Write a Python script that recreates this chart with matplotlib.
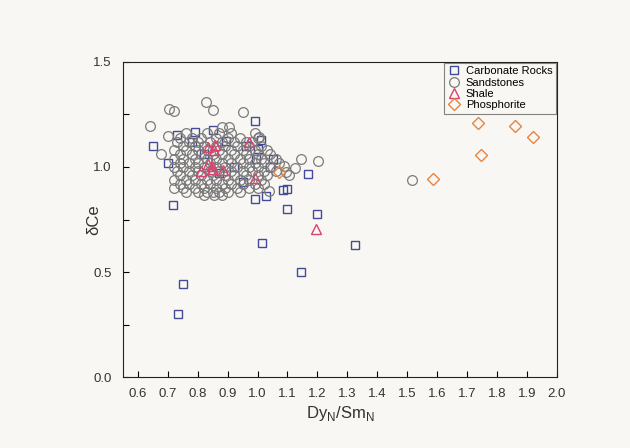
import numpy as np
import matplotlib.pyplot as plt
from matplotlib.ticker import MultipleLocator

plt.rcParams['font.family'] = ['Liberation Sans', 'DejaVu Sans']

# Carbonate Rocks
carb_x = [0.65, 0.70, 0.718, 0.99, 0.85, 0.79, 0.73, 1.01, 1.05, 1.17, 1.085, 1.10,
          0.992, 1.028, 1.097, 1.20, 0.75, 0.734, 1.015, 1.145, 1.327,
          0.896, 0.963, 1.0, 0.994, 0.82, 0.92, 0.87, 0.95, 0.78, 1.04]
carb_y = [1.10, 1.02, 0.817, 1.219, 1.175, 1.165, 1.152, 1.129, 1.04, 0.965, 0.889, 0.893,
          0.846, 0.863, 0.798, 0.775, 0.441, 0.30, 0.637, 0.50, 0.63,
          1.125, 1.10, 1.084, 1.038, 1.06, 1.00, 0.97, 0.93, 1.12, 1.00]

# Sandstones
sand_rows = {
    1.19: [0.88, 0.905],
    1.16: [0.76, 0.83, 0.87, 0.91, 0.99],
    1.14: [0.74, 0.78, 0.81, 0.86, 0.90, 0.94, 1.00],
    1.12: [0.73, 0.77, 0.80, 0.84, 0.88, 0.92, 0.96, 0.98],
    1.10: [0.75, 0.79, 0.82, 0.86, 0.89, 0.93, 0.97, 1.01],
    1.08: [0.72, 0.76, 0.80, 0.83, 0.87, 0.91, 0.95, 0.99, 1.03],
    1.06: [0.74, 0.78, 0.81, 0.85, 0.88, 0.92, 0.96, 1.00, 1.04],
    1.04: [0.72, 0.75, 0.79, 0.83, 0.86, 0.90, 0.94, 0.97, 1.01, 1.06],
    1.02: [0.74, 0.77, 0.80, 0.84, 0.88, 0.91, 0.95, 0.99, 1.02, 1.07],
    1.00: [0.72, 0.75, 0.79, 0.82, 0.86, 0.89, 0.93, 0.97, 1.00, 1.04],
    0.98: [0.73, 0.77, 0.80, 0.84, 0.87, 0.91, 0.95, 0.98, 1.02, 1.06],
    0.96: [0.74, 0.78, 0.81, 0.85, 0.89, 0.92, 0.96, 1.00, 1.03],
    0.94: [0.72, 0.76, 0.79, 0.83, 0.86, 0.90, 0.94, 0.97, 1.01],
    0.92: [0.74, 0.77, 0.81, 0.84, 0.88, 0.91, 0.95, 0.99, 1.02],
    0.90: [0.72, 0.75, 0.79, 0.82, 0.86, 0.89, 0.93, 0.97, 1.00],
    0.88: [0.76, 0.80, 0.83, 0.85, 0.87, 0.90, 0.94],
    0.865: [0.82, 0.855, 0.88],
}
sand_x = [x for yv, xs in sand_rows.items() for x in xs]
sand_y = [yv for yv, xs in sand_rows.items() for x in xs]
# outliers
sand_x += [0.64, 0.705, 0.72, 0.829, 0.851, 0.952, 0.679, 0.70, 1.005, 1.039,
           1.146, 1.202, 1.124, 1.089, 1.095, 1.105, 1.516]
sand_y += [1.197, 1.278, 1.268, 1.311, 1.271, 1.26, 1.06, 1.149, 1.141, 0.886,
           1.04, 1.027, 0.993, 1.005, 0.978, 0.96, 0.937]

# Shale
shale_x = [0.835, 0.857, 0.853, 0.972, 0.835, 0.848, 0.812, 0.848, 0.884, 0.992, 1.196]
shale_y = [1.097, 1.105, 1.081, 1.117, 1.014, 1.006, 0.981, 0.99, 0.986, 0.946, 0.703]

# Phosphorite
phos_x = [1.738, 1.861, 1.92, 1.746, 1.587, 1.07]
phos_y = [1.211, 1.195, 1.143, 1.057, 0.941, 0.974]

bg = '#f9f7f4'
fig = plt.figure(figsize=(6.3, 4.48), dpi=100, facecolor=bg)
ax = fig.add_axes([0.195, 0.158, 0.689, 0.704], facecolor=bg)

ax.plot(carb_x, carb_y, 's', ms=6, mfc='none', mec='#454a98', mew=1.0,
        label='Carbonate Rocks', zorder=3)
ax.plot(sand_x, sand_y, 'o', ms=7, mfc='none', mec='#7b7b7b', mew=0.9,
        label='Sandstones', zorder=4)
ax.plot(shale_x, shale_y, '^', ms=7.5, mfc='none', mec='#d9436f', mew=1.0,
        label='Shale', zorder=5)
ax.plot(phos_x, phos_y, 'D', ms=6.5, mfc='none', mec='#e58544', mew=1.0,
        label='Phosphorite', zorder=5)

ax.set_xlim(0.55, 2.0)
ax.set_ylim(0, 1.5)
ax.xaxis.set_major_locator(MultipleLocator(0.1))
ax.yaxis.set_major_locator(MultipleLocator(0.5))
ax.yaxis.set_minor_locator(MultipleLocator(0.25))
ax.tick_params(direction='in', length=4, width=0.8, labelsize=9.5,
               labelcolor='#333333', top=False, right=False)
ax.tick_params(axis='x', pad=8)
ax.tick_params(axis='y', pad=8)
ax.tick_params(which='minor', direction='in', length=4, width=0.8, right=False)
ax.xaxis.set_major_formatter(plt.FormatStrFormatter('%.1f'))
ax.yaxis.set_major_formatter(plt.FormatStrFormatter('%.1f'))
for s in ax.spines.values():
    s.set_linewidth(0.8)
    s.set_color('#222222')

ax.set_xlabel(r'Dy$_\mathregular{N}$/Sm$_\mathregular{N}$', fontsize=12, color='#333333', labelpad=3)
ax.set_ylabel('δCe', fontsize=12, color='#333333')
ax.yaxis.set_label_coords(-0.05, 0.5)

leg = ax.legend(loc='upper right', bbox_to_anchor=(1, 1), borderaxespad=0.1,
                fontsize=8, frameon=True, fancybox=False, handlelength=1.2,
                handletextpad=0.5, labelspacing=0.12, borderpad=0.3)
leg.get_frame().set_edgecolor('#666666')
leg.get_frame().set_facecolor(bg)
leg.get_frame().set_linewidth(0.8)

fig.savefig('out.png', dpi=100, facecolor=bg)
